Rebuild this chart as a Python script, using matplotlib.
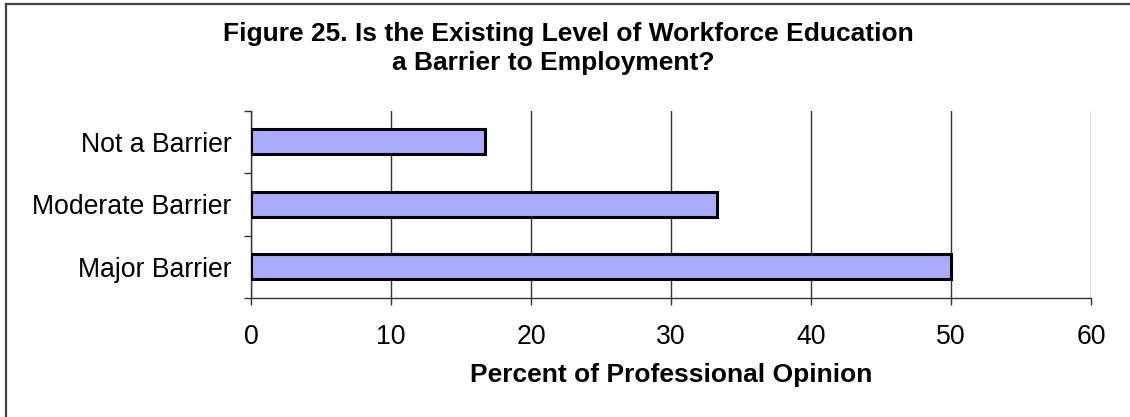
import matplotlib
matplotlib.use('Agg')
import matplotlib.pyplot as plt
from matplotlib.lines import Line2D
import numpy as np

plt.rcParams['font.family'] = ['Liberation Sans', 'DejaVu Sans']

categories = ['Major Barrier', 'Moderate Barrier', 'Not a Barrier']
percent = [50.0, 33.3, 16.7]
x_ticks = [0, 10, 20, 30, 40, 50, 60]

W, H = 1130, 417
fig = plt.figure(figsize=(W / 100, H / 100), dpi=100)
fig.patch.set_facecolor('white')

# plot area in pixel terms
left, right, bottom, top = 251, 1091, 298, 110.5
ax = fig.add_axes([left / W, (H - bottom) / H, (right - left) / W, (bottom - top) / H])

y = np.arange(len(categories))
ax.barh(y, percent, height=0.4, color='#AAAAFF', edgecolor='black', linewidth=2.2, zorder=3)

ax.set_xlim(0, 60)
ax.set_ylim(-0.5, len(categories) - 0.5)

ax.set_xticks(x_ticks)
ax.set_xticklabels([str(t) for t in x_ticks], fontsize=19.2)
ax.tick_params(axis='x', direction='out', length=5, width=1, pad=14, color='#333333')

ax.set_yticks(y)
ax.set_yticklabels(categories, fontsize=19.2)
ax.set_yticks(np.arange(-0.5, len(categories), 1.0), minor=True)
ax.tick_params(axis='y', which='major', length=0, pad=14)
ax.tick_params(axis='y', which='minor', direction='out', length=5, width=1, color='#333333')

ax.xaxis.grid(True, color='#333333', linewidth=1)
ax.set_axisbelow(True)

for side in ['top', 'right']:
    ax.spines[side].set_visible(False)
for side in ['left', 'bottom']:
    ax.spines[side].set_color('#333333')
    ax.spines[side].set_linewidth(1)

fig.text(671 / W, (H - 375) / H, 'Percent of Professional Opinion',
         fontsize=19, fontweight='bold', ha='center', va='center')

fig.text(568 / W, (H - 41) / H, 'Figure 25. Is the Existing Level of Workforce Education',
         fontsize=19, fontweight='bold', ha='center', va='baseline')
fig.text(553 / W, (H - 70) / H, 'a Barrier to Employment?',
         fontsize=19, fontweight='bold', ha='center', va='baseline')

# outer frame (top and left edges)
fig.add_artist(Line2D([5.5 / W, 1.0], [(H - 3.5) / H, (H - 3.5) / H],
                      transform=fig.transFigure, color='#444444', linewidth=1.6))
fig.add_artist(Line2D([5.5 / W, 5.5 / W], [0.0, (H - 3.5) / H],
                      transform=fig.transFigure, color='#444444', linewidth=1.6))

fig.savefig('out.png', dpi=100, facecolor='white')
